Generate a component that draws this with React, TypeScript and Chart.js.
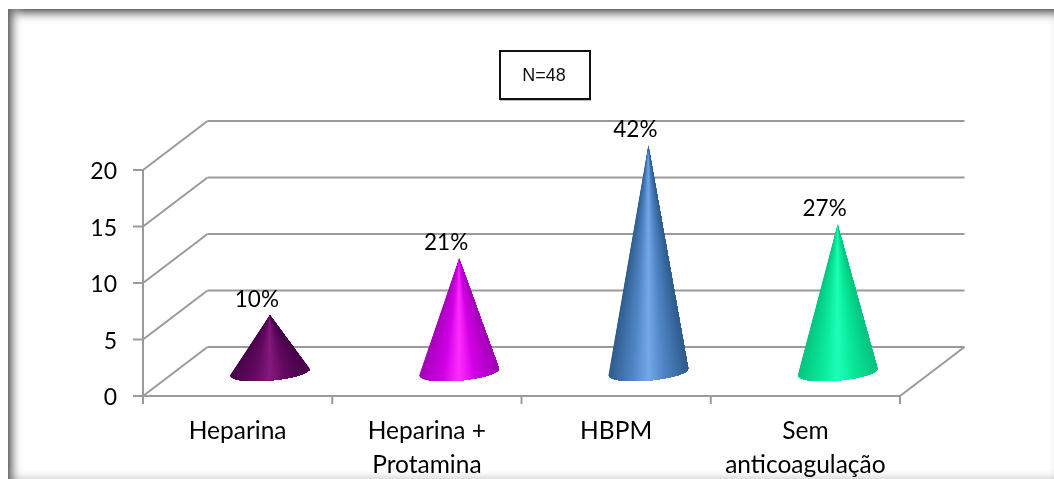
import React, { useEffect, useRef } from "react";
import { Chart, registerables } from "chart.js";

Chart.register(...registerables);

const categories = ["Heparina", ["Heparina +", "Protamina"], "HBPM", ["Sem", "anticoagulação"]];
const values = [5, 10, 20, 13];
const percentLabels = ["10%", "21%", "42%", "27%"];
const coneLight = ["#85187f", "#ff2cff", "#74a8e8", "#1dffb8"];
const coneMid = ["#620a60", "#d000e4", "#4f84c4", "#0ae898"];
const coneDark = ["#470348", "#a400b8", "#2f5c8c", "#06c480"];
const noteText = "N=48";

const FONT = "Lato, 'Noto Sans', sans-serif";
const DX = 64.5;
const DY = 49;
const GRID = "#9a9a9a";

function line(c: CanvasRenderingContext2D, x1: number, y1: number, x2: number, y2: number) {
  c.beginPath();
  c.moveTo(x1, y1);
  c.lineTo(x2, y2);
  c.stroke();
}

function rgb(hex: string) {
  return [1, 3, 5].map((p) => parseInt(hex.slice(p, p + 2), 16));
}

function mix(a: string, b: string, t: number) {
  const A = rgb(a);
  const B = rgb(b);
  return `rgb(${A.map((v, i) => Math.round(v + (B[i] - v) * t)).join(",")})`;
}

function shade(i: number, t: number) {
  if (t < 0.3) return mix(coneDark[i], coneMid[i], t / 0.3);
  if (t < 0.5) return mix(coneMid[i], coneLight[i], (t - 0.3) / 0.2);
  if (t < 0.7) return mix(coneLight[i], coneMid[i], (t - 0.5) / 0.2);
  return mix(coneMid[i], coneDark[i], (t - 0.7) / 0.3);
}

const framePlugin = {
  id: "frame",
  beforeDraw(chart: any) {
    const c = chart.ctx as CanvasRenderingContext2D;
    const W = chart.width;
    const H = chart.height;
    c.save();
    c.fillStyle = "#fff";
    c.fillRect(0, 0, W, H);
    const L = 8, T = 9;
    const band = (x: number, y: number, w: number, h: number, x0: number, y0: number, x1: number, y1: number, a: number) => {
      const g = c.createLinearGradient(x0, y0, x1, y1);
      g.addColorStop(0, `rgba(105,105,105,${a})`);
      g.addColorStop(0.3, `rgba(140,140,140,${a * 0.62})`);
      g.addColorStop(0.65, `rgba(205,205,205,${a * 0.2})`);
      g.addColorStop(1, "rgba(255,255,255,0)");
      c.fillStyle = g;
      c.fillRect(x, y, w, h);
    };
    band(L, T, W - L, 17, 0, T, 0, T + 17, 1);
    band(L, T, 17, H - T, L, 0, L + 17, 0, 1);
    band(L, H - 12, W - L, 12, 0, H, 0, H - 12, 0.22);
    band(W - 8, T, 8, H - T, W, 0, W - 8, 0, 0.06);
    c.restore();
  },
};

const scenePlugin = {
  id: "scene",
  beforeDatasetsDraw(chart: any) {
    const c = chart.ctx as CanvasRenderingContext2D;
    const { y } = chart.scales;
    const left = chart.chartArea.left;
    const right = chart.chartArea.right;
    const bottom = chart.chartArea.bottom;
    c.save();
    c.strokeStyle = GRID;
    c.lineWidth = 2;
    y.ticks.forEach((t: any) => {
      const py = y.getPixelForValue(t.value);
      line(c, left, py, left + DX, py - DY);
      line(c, left + DX, py - DY, right + DX, py - DY);
      line(c, left - 10, py, left, py);
    });
    line(c, left, y.top, left, bottom + 8);
    line(c, left, bottom, right, bottom);
    line(c, right, bottom, right + DX, bottom - DY);
    const n = values.length;
    for (let i = 0; i <= n; i++) {
      const tx = left + ((right - left) * i) / n;
      line(c, tx, bottom, tx, bottom + 8);
    }
    c.restore();
  },
  afterDatasetsDraw(chart: any) {
    const c = chart.ctx as CanvasRenderingContext2D;
    const { x, y } = chart.scales;
    const base = y.getPixelForValue(0) - DY / 2;
    c.save();
    values.forEach((v, i) => {
      const cx = x.getPixelForValue(i) + DX / 2;
      const apex = y.getPixelForValue(v) - DY / 2;
      const rx = 40;
      const ry = 8.5;
      const tilt = -0.085;
      c.save();
      c.beginPath();
      c.moveTo(cx, apex);
      c.ellipse(cx, base + 0.5, rx, ry, tilt, 0, Math.PI, false);
      c.closePath();
      c.clip();
      const slices = 80;
      const reach = base + 14;
      const spread = (reach - apex) / (base + 4 - apex);
      c.fillStyle = coneDark[i];
      c.fillRect(cx - rx - 2, apex, 2 * rx + 4, reach - apex);
      for (let k = 0; k < slices; k++) {
        const x0 = cx + (-rx + (2 * rx * k) / slices) * spread;
        c.beginPath();
        c.moveTo(cx, apex);
        c.lineTo(x0, reach);
        c.lineTo(cx + (rx + 4) * spread, reach);
        c.closePath();
        c.fillStyle = shade(i, (k + 0.5) / slices);
        c.fill();
      }
      c.restore();
      c.fillStyle = "#000";
      c.font = `22.5px ${FONT}`;
      c.textAlign = "center";
      c.textBaseline = "alphabetic";
      c.fillText(percentLabels[i], cx - 13, apex - 8.5);
    });
    c.strokeStyle = "#bdbdbd";
    c.lineWidth = 1;
    line(c, 500, 100.5, 591, 100.5);
    c.fillStyle = "#fff";
    c.strokeStyle = "#111";
    c.lineWidth = 2;
    c.fillRect(500, 51, 90, 48);
    c.strokeRect(500, 51, 90, 48);
    c.fillStyle = "#111";
    c.font = "18px 'Liberation Sans', Arial, sans-serif";
    c.textAlign = "center";
    c.textBaseline = "middle";
    c.fillText(noteText, 544, 76);
    c.restore();
  },
};

export default function App() {
  const ref = useRef<HTMLCanvasElement>(null);
  useEffect(() => {
    const chart = new Chart(ref.current!, {
      type: "bar",
      data: {
        labels: categories as any,
        datasets: [{ data: values, backgroundColor: "rgba(0,0,0,0)", borderWidth: 0 }],
      },
      options: {
        responsive: false,
        animation: false,
        layout: { padding: { left: 0, top: 170, right: 154, bottom: 0 } },
        plugins: { legend: { display: false }, tooltip: { enabled: false } },
        scales: {
          x: {
            grid: { display: false, drawTicks: false },
            border: { display: false },
            ticks: {
              color: "#000",
              font: { family: FONT, size: 24.5, lineHeight: 1.35 },
              padding: 19,
              maxRotation: 0,
              autoSkip: false,
            },
            afterFit(s: any) { s.height = 83; },
          },
          y: {
            min: 0,
            max: 20,
            position: "left",
            grid: { display: false, drawTicks: false },
            border: { display: false },
            ticks: { stepSize: 5, color: "#000", font: { family: FONT, size: 23 }, padding: 26, labelOffset: 2 },
            afterFit(s: any) { s.width = 143; },
          },
        },
      },
      plugins: [framePlugin, scenePlugin],
    });
    return () => chart.destroy();
  }, []);
  return (
    <div style={{ position: "fixed", left: 0, top: 0, width: 1054, height: 479 }}>
      <canvas ref={ref} width={1054} height={479} style={{ display: "block" }} />
    </div>
  );
}
